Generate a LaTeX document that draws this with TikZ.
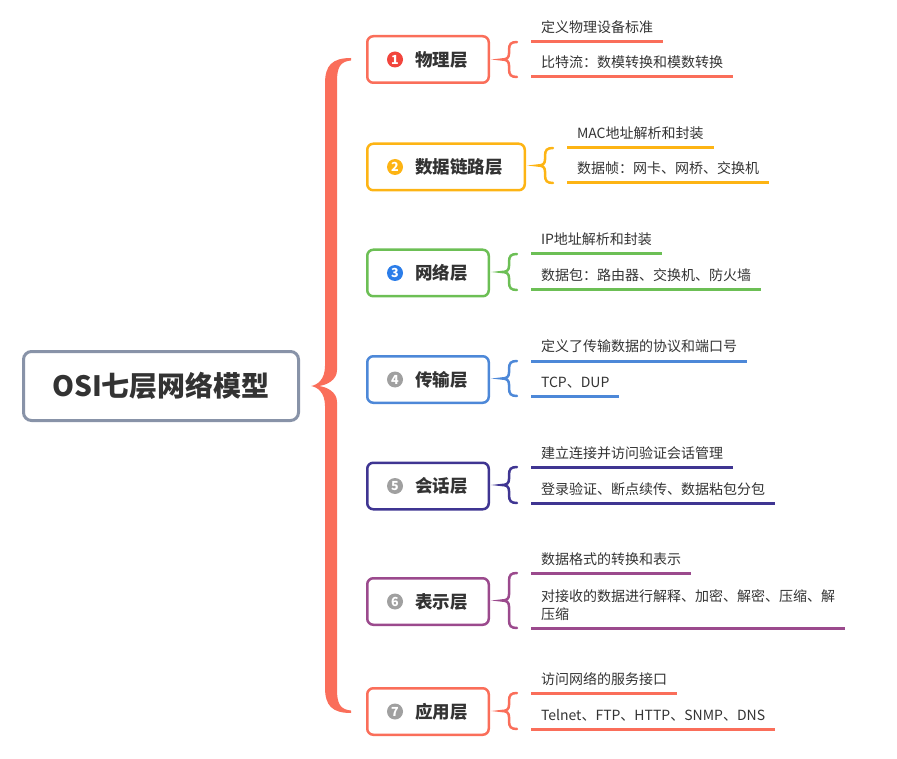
\documentclass[tikz,border=0pt]{standalone}
\usepackage{fontspec}
\setmainfont{Noto Sans CJK SC}
\usetikzlibrary{calc}
\definecolor{coral}{HTML}{FA6E5A}
\definecolor{gold}{HTML}{FDB414}
\definecolor{grn}{HTML}{6CBF55}
\definecolor{blu}{HTML}{4D88D8}
\definecolor{indig}{HTML}{3F3592}
\definecolor{purp}{HTML}{9B4A8D}
\definecolor{rootc}{HTML}{8893A8}
\definecolor{txt}{HTML}{333333}
\definecolor{nred}{HTML}{F2453D}
\definecolor{nblue}{HTML}{2B7DE9}
\definecolor{ngray}{HTML}{A0A0A0}
\tikzset{
  rootbox/.style={draw=rootc, line width=3pt, rounded corners=8pt, minimum width=275pt,
    minimum height=69pt, inner sep=0pt, text=txt, font=\fontsize{28}{32}\selectfont\bfseries},
  layerbox/.style={draw=#1, line width=2.5pt, rounded corners=6pt, minimum height=46.5pt,
    anchor=west, inner sep=0pt},
  numc/.style={circle, fill=#1, text=white, inner sep=0pt, minimum size=16pt,
    font=\fontsize{12.5}{12.5}\selectfont\bfseries},
  lbl/.style={anchor=west, inner sep=0pt, text=txt, font=\fontsize{17.5}{20}\selectfont\bfseries},
  child/.style={anchor=west, inner xsep=10pt, inner ysep=0pt, outer sep=0pt, text=txt,
    font=\fontsize{14}{18}\selectfont, align=left, text height=10.5pt, text depth=0pt},
  uline/.style={line width=3pt},
  sbr/.style={line width=2.5pt, line cap=round},
}
% layer: name, y, min width, colour, number colour, number, label
\newcommand\layer[7]{%
  \node[layerbox=#4, minimum width=#3] (#1) at (366,#2) {};
  \node[numc=#5] (#1n) at ([xshift=29pt]#1.west) {#6};
  \node[lbl] (#1t) at ([xshift=49pt]#1.west) {#7};
}
% child: name, x, y(center of last line), colour, text
\newcommand\childtext[5]{%
  \node[child] (#1) at (#2,#3) {#5};
  \draw[uline,#4] ([yshift=-9pt]#1.south west) -- ([yshift=-9pt]#1.south east);
}
% small brace: layer node, top child, bottom child, colour
\newcommand\sbrace[4]{%
  \draw[sbr,#4] let \p1=(#1.east), \p2=([yshift=-9pt]#2.south), \p3=([yshift=-9pt]#3.south),
    \n1={0.5*(\y2+\y3)} in
    (\x1+27pt,\y2) .. controls (\x1+21pt,\y2) and (\x1+19pt,\y2-2pt) .. (\x1+19pt,\y2-8pt)
    -- (\x1+19pt,\n1+6pt) .. controls (\x1+19pt,\n1+2pt) and (\x1+17pt,\n1+0pt) .. (\x1+12pt,\n1+0pt)
    .. controls (\x1+17pt,\n1+0pt) and (\x1+19pt,\n1-2pt) .. (\x1+19pt,\n1-6pt)
    -- (\x1+19pt,\y3+8pt) .. controls (\x1+19pt,\y3+2pt) and (\x1+21pt,\y3) .. (\x1+27pt,\y3);
}
\begin{document}
\begin{tikzpicture}[x=1pt,y=-1pt]
\useasboundingbox (0,0) rectangle (897,759);

\node[rootbox] (root) at (161,386) {OSI七层网络模型};

\layer{L1}{59.5}{121.5pt}{coral}{nred}{1}{物理层}
\layer{L2}{167}{157.5pt}{gold}{gold}{2}{数据链路层}
\layer{L3}{273}{121.5pt}{grn}{nblue}{3}{网络层}
\layer{L4}{379.5}{121.5pt}{blu}{ngray}{4}{传输层}
\layer{L5}{486}{121.5pt}{indig}{ngray}{5}{会话层}
\layer{L6}{601.5}{121.5pt}{purp}{ngray}{6}{表示层}
\layer{L7}{711.5}{121.5pt}{coral}{ngray}{7}{应用层}

% big brace
\fill[coral] let \p1=(root.east), \p2=(L1.west), \p3=(L7.west) in
  (\x2-15pt,\y2+1.5pt) .. controls (\x1+32pt,\y2+1.5pt) and (\x1+25pt,\y2-6pt) .. (\x1+25pt,\y2-24pt)
  -- (\x1+25pt,\y1+20pt) .. controls (\x1+25pt,\y1+6pt) and (\x1+17pt,\y1+1pt) .. (\x1+11pt,\y1)
  .. controls (\x1+17pt,\y1-1pt) and (\x1+25pt,\y1-6pt) .. (\x1+25pt,\y1-20pt)
  -- (\x1+25pt,\y3+24pt) .. controls (\x1+25pt,\y3+6pt) and (\x1+32pt,\y3-1.5pt) .. (\x2-15pt,\y3-1.5pt)
  -- (\x2-15pt,\y3+1pt) .. controls (\x1+40pt,\y3+2pt) and (\x1+37pt,\y3+8pt) .. (\x1+37pt,\y3+22pt)
  -- (\x1+37pt,\y1-16pt) .. controls (\x1+37pt,\y1-6pt) and (\x1+27pt,\y1-1pt) .. (\x1+19pt,\y1)
  .. controls (\x1+27pt,\y1+1pt) and (\x1+37pt,\y1+6pt) .. (\x1+37pt,\y1+16pt)
  -- (\x1+37pt,\y2-22pt) .. controls (\x1+37pt,\y2-8pt) and (\x1+40pt,\y2-2pt) .. (\x2-15pt,\y2-1pt)
  -- cycle;

% children
\childtext{L1a}{531}{27.75}{coral}{定义物理设备标准}
\childtext{L1b}{531}{62.75}{coral}{比特流：数模转换和模数转换}
\sbrace{L1}{L1a}{L1b}{coral}

\childtext{L2a}{567}{133.75}{gold}{MAC地址解析和封装}
\childtext{L2b}{567}{168.75}{gold}{数据帧：网卡、网桥、交换机}
\sbrace{L2}{L2a}{L2b}{gold}

\childtext{L3a}{531}{239.75}{grn}{IP地址解析和封装}
\childtext{L3b}{531}{275.75}{grn}{数据包：路由器、交换机、防火墙}
\sbrace{L3}{L3a}{L3b}{grn}

\childtext{L4a}{531}{346.75}{blu}{定义了传输数据的协议和端口号}
\childtext{L4b}{531}{381.75}{blu}{TCP、DUP}
\sbrace{L4}{L4a}{L4b}{blu}

\childtext{L5a}{531}{452.75}{indig}{建立连接并访问验证会话管理}
\childtext{L5b}{531}{488.75}{indig}{登录验证、断点续传、数据粘包分包}
\sbrace{L5}{L5a}{L5b}{indig}

\childtext{L6a}{531}{558.75}{purp}{数据格式的转换和表示}
\childtext{L6b}{531}{613.75}{purp}{对接收的数据进行解释、加密、解密、压缩、解\\压缩}
\sbrace{L6}{L6a}{L6b}{purp}

\childtext{L7a}{531}{678.75}{coral}{访问网络的服务接口}
\childtext{L7b}{531}{714.75}{coral}{Telnet、FTP、HTTP、SNMP、DNS}
\sbrace{L7}{L7a}{L7b}{coral}
\end{tikzpicture}
\end{document}
